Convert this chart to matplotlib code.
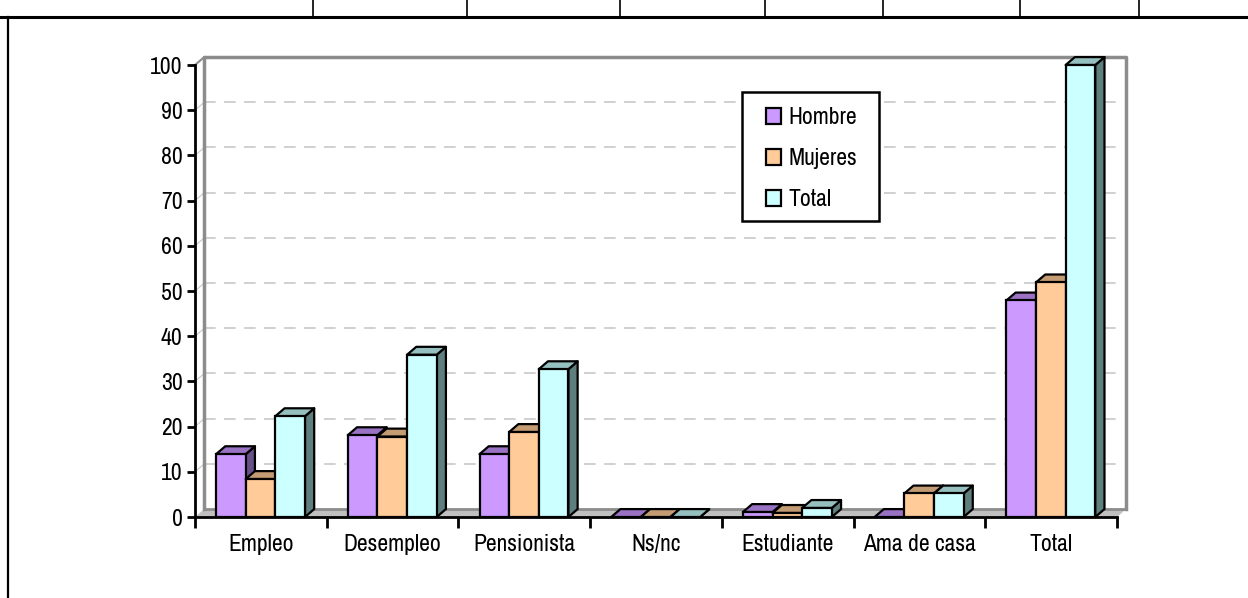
import numpy as np
import matplotlib
matplotlib.use("Agg")
import matplotlib.pyplot as plt
from matplotlib.patches import Polygon, Patch, Rectangle
from matplotlib.lines import Line2D

categories = ["Empleo", "Desempleo", "Pensionista", "Ns/nc", "Estudiante", "Ama de casa", "Total"]
series = ["Hombre", "Mujeres", "Total"]
hombre = [13.9, 18.1, 13.9, 0.0, 1.1, 0.0, 47.9]
mujeres = [8.4, 17.8, 18.8, 0.0, 0.9, 5.2, 51.9]
total = [22.3, 35.9, 32.7, 0.0, 2.0, 5.2, 100.0]
yticks = list(range(0, 101, 10))

front = ["#CC99FF", "#FFCC99", "#CCFFFF"]
tops = ["#9A72C4", "#C49C74", "#96C0C0"]
sides = ["#6A5088", "#8C7058", "#5F7F7F"]

plt.rcParams["font.family"] = ["Archivo Narrow", "Liberation Sans", "DejaVu Sans"]
fs = 17

fig = plt.figure(figsize=(12.48, 5.98), dpi=100)
ax = fig.add_axes([195 / 1248, (598 - 517) / 598, 922 / 1248, 452 / 598])
ax.set_xlim(0, 7)
ax.set_ylim(0, 100)
ax.patch.set_visible(False)

dx, dy = 0.07, 1.75
wall = "#8C8C8C"

# floor
ax.add_patch(Polygon([(0, 0), (7, 0), (7 + dx, dy), (dx, dy)], closed=True,
                     facecolor="#C0C0C0", edgecolor="none", clip_on=False, zorder=1))
ax.plot([dx, 7 + dx], [dy, dy], color=wall, lw=2, clip_on=False, zorder=1.1)

# back wall
ax.plot([dx, dx, 7 + dx, 7 + dx], [dy, 100 + dy, 100 + dy, dy], color=wall, lw=2.5,
        clip_on=False, zorder=1.2)
ax.plot([0, dx], [100, 100 + dy], color=wall, lw=1.5, clip_on=False, zorder=1.2)
for v in yticks[1:-1]:
    ax.plot([dx, 7 + dx - 0.04], [v + dy, v + dy], color="#C8C8C8", lw=1.2,
            dashes=(7, 5), clip_on=False, zorder=1.1)
    ax.plot([0, dx], [v, v + dy], color="#C8C8C8", lw=0.8, clip_on=False, zorder=1.1)

# bars
w = 0.225
off = 0.16
z = 2
for i in range(len(categories)):
    vals = [hombre[i], mujeres[i], total[i]]
    for j, v in enumerate(vals):
        x0 = i + off + j * w
        side = Polygon([(x0 + w, 0), (x0 + w, v), (x0 + w + dx, v + dy), (x0 + w + dx, dy)],
                       closed=True, facecolor=sides[j], edgecolor="black", lw=1.6,
                       joinstyle="round", clip_on=False, zorder=z)
        top = Polygon([(x0, v), (x0 + w, v), (x0 + w + dx, v + dy), (x0 + dx, v + dy)],
                      closed=True, facecolor=tops[j], edgecolor="black", lw=1.6,
                      joinstyle="round", clip_on=False, zorder=z + 0.1)
        ax.add_patch(side)
        ax.add_patch(top)
        if v > 0:
            ax.bar(x0, v, width=w, align="edge", color=front[j], edgecolor="black",
                   lw=1.6, zorder=z + 0.2, clip_on=False)
        z += 1

# axes
for s in ["top", "right"]:
    ax.spines[s].set_visible(False)
ax.spines["left"].set_linewidth(2)
ax.spines["bottom"].set_linewidth(2)
ax.spines["left"].set_zorder(50)
ax.spines["bottom"].set_zorder(50)
ax.set_yticks(yticks)
ax.tick_params(axis="y", length=6, width=2, pad=3, labelsize=fs)
ax.set_xticks(range(0, 8))
ax.set_xticklabels([])
ax.set_xticks(np.arange(0.5, 7, 1), minor=True)
ax.set_xticklabels(categories, minor=True)
ax.tick_params(axis="x", which="major", length=8, width=2, direction="out")
ax.tick_params(axis="x", which="minor", length=0, pad=12, labelsize=fs)

# legend: box drawn separately, entries placed inside
fig.add_artist(Rectangle((742 / 1248, 1 - 221 / 598), 137 / 1248, 129 / 598,
                         transform=fig.transFigure, facecolor="white", edgecolor="black",
                         lw=1.8, zorder=60))
handles = [Patch(facecolor=front[k], edgecolor="black", lw=1.6) for k in range(3)]
leg = fig.legend(handles, series, loc="upper left", bbox_to_anchor=(766 / 1248, 1 - 107 / 598),
                 frameon=False, fontsize=fs, handlelength=0.65, handleheight=0.65,
                 handletextpad=0.3, labelspacing=0.85, borderpad=0, borderaxespad=0)
leg.set_zorder(61)

# outer table frame
fig.add_artist(Line2D([0, 1], [1 - 17 / 598, 1 - 17 / 598], color="black", lw=2.2))
fig.add_artist(Line2D([8 / 1248, 8 / 1248], [0, 1 - 17 / 598], color="black", lw=1.6))
for px in [313, 467, 620, 765, 883, 1020, 1139]:
    fig.add_artist(Line2D([px / 1248, px / 1248], [1 - 17 / 598, 1], color="black", lw=1.2))

fig.savefig("out.png", dpi=100)
